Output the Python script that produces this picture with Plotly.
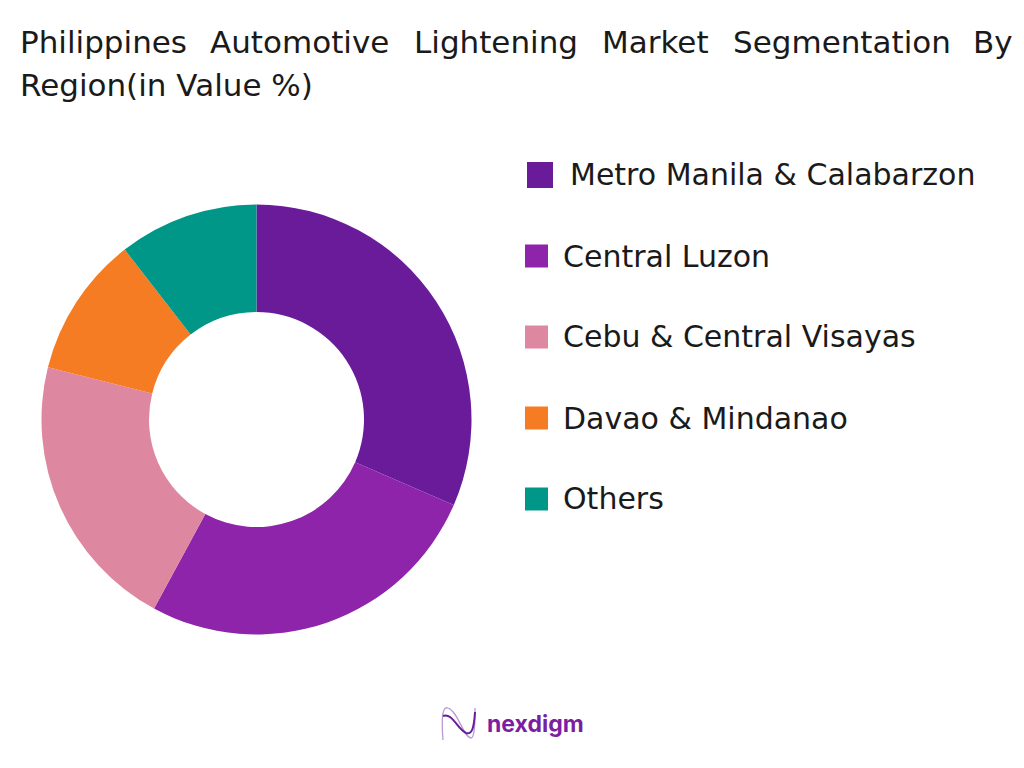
import plotly.graph_objects as go

categories = ["Metro Manila & Calabarzon", "Central Luzon", "Cebu & Central Visayas", "Davao & Mindanao", "Others"]
values = [31.5, 26.4, 21, 10.6, 10.5]
colors = ["#6A1B9A", "#8E24AA", "#DE87A0", "#F57C22", "#009688"]
title_line1 = ["Philippines", "Automotive", "Lightening", "Market", "Segmentation", "By"]
title_x = [18, 208, 412, 600, 731, 971]
title_line2 = "Region(in Value %)"
legend_y = [175, 256, 337, 418, 499]
legend_box_y = [175, 256, 337, 418, 499]
legend_text_x = [568, 561, 561, 561, 561]
legend_box_x = [527, 525, 525, 525, 525]
legend_box_w = [26, 23, 23, 23, 23]
FONT = "DejaVu Sans"
W, H = 1016, 760
OFF = 8

def px(x):
    return (x - OFF) / W

def py(y):
    return 1 - (y - OFF) / H

def curve(points):
    p = [f"{px(x):.5f},{py(y):.5f}" for x, y in points]
    out = "M " + p[0]
    for i in range(1, len(p), 3):
        out += " C " + " ".join(p[i:i + 3])
    return out

fig = go.Figure()
fig.add_trace(go.Pie(
    labels=categories, values=values, hole=0.5, sort=False, direction="clockwise",
    rotation=0, marker=dict(colors=colors, line=dict(width=0)), textinfo="none",
    hoverinfo="label+percent", showlegend=False,
    domain=dict(x=[px(41.5), px(471.5)], y=[py(634.5), py(204.5)]),
))
ann = []
for w, x in zip(title_line1, title_x):
    ann.append(dict(text=w, x=px(x), y=py(42), xref="paper", yref="paper", xanchor="left", yanchor="middle",
                    showarrow=False, font=dict(family=FONT, size=31, color="#1a1a1a")))
ann.append(dict(text=title_line2, x=px(18), y=py(85), xref="paper", yref="paper", xanchor="left", yanchor="middle",
                showarrow=False, font=dict(family=FONT, size=31, color="#1a1a1a")))
shapes = []
for c, col, y, by, tx, bx, bw in zip(categories, colors, legend_y, legend_box_y, legend_text_x, legend_box_x, legend_box_w):
    ann.append(dict(text=c, x=px(tx), y=py(y), xref="paper", yref="paper", xanchor="left", yanchor="middle",
                    showarrow=False, font=dict(family=FONT, size=30, color="#1a1a1a")))
    shapes.append(dict(type="rect", xref="paper", yref="paper", x0=px(bx), x1=px(bx + bw),
                       y0=py(by + bw / 2), y1=py(by - bw / 2), fillcolor=col, line=dict(width=0)))
logo_light = [(443, 740), (441, 715), (443, 706), (448, 708), (458, 711), (463, 737), (471, 738), (475, 738), (475, 720), (475, 708)]
logo_dark = [(443, 716), (452, 712), (458, 730), (466, 733), (472, 735), (474, 728), (475, 712)]
shapes.append(dict(type="path", xref="paper", yref="paper", path=curve(logo_light), line=dict(color="#B79AD6", width=1.3)))
shapes.append(dict(type="path", xref="paper", yref="paper", path=curve(logo_dark), line=dict(color="#6A1B9A", width=2)))
ann.append(dict(text="<b>nexdigm</b>", x=px(485), y=py(724), xref="paper", yref="paper", xanchor="left", yanchor="middle",
                showarrow=False, font=dict(family="Inter", size=23, color="#7B1FA2")))
fig.update_layout(width=W, height=H, margin=dict(l=0, r=0, t=0, b=0), paper_bgcolor="white",
                  annotations=ann, shapes=shapes)
fig.write_html("out.html")
